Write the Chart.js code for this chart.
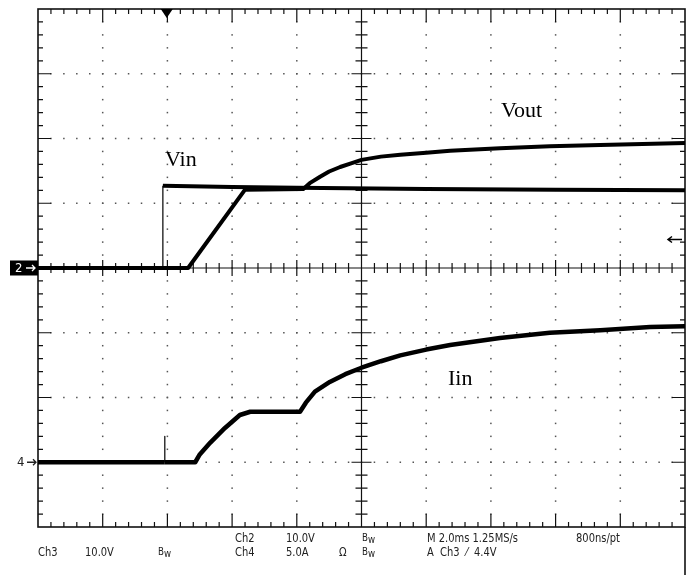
<!DOCTYPE html>
<html>
<head>
<meta charset="utf-8">
<script src="https://cdn.jsdelivr.net/npm/chart.js@4.4.0/dist/chart.umd.min.js"></script>
<style>
  body { margin: 0; background: #fff; }
  #wrap { position: relative; width: 693px; height: 575px; overflow: hidden; }
  .lbl { position: absolute; font-family: "Liberation Serif", "DejaVu Serif", serif; font-size: 22px; color: #000; line-height: 22px; white-space: nowrap; }
  .st { position: absolute; font-family: "DejaVu Sans Condensed", "DejaVu Sans", sans-serif; font-size: 12px; color: #222; line-height: 13px; white-space: nowrap; transform: scaleX(0.92); transform-origin: left; }
  .bw { font-size: 10.5px; }
  .bw span { position: relative; top: 2px; }
</style>
</head>
<body>
<div id="wrap">
  <canvas id="scope" width="693" height="575"></canvas>

  <div class="lbl" style="left:165px; top:148px;">Vin</div>
  <div class="lbl" style="left:501px; top:99px;">Vout</div>
  <div class="lbl" style="left:448px; top:367px;">Iin</div>

  <div class="st" style="left:235px; top:532px;">Ch2</div>
  <div class="st" style="left:286px; top:532px;">10.0V</div>
  <div class="st bw" style="left:362px; top:531px;">B<span>w</span></div>
  <div class="st" style="left:427px; top:532px;">M 2.0ms 1.25MS/s</div>
  <div class="st" style="left:576px; top:532px;">800ns/pt</div>

  <div class="st" style="left:38px; top:546px;">Ch3</div>
  <div class="st" style="left:85px; top:546px;">10.0V</div>
  <div class="st bw" style="left:158px; top:545px;">B<span>w</span></div>
  <div class="st" style="left:235px; top:546px;">Ch4</div>
  <div class="st" style="left:286px; top:546px;">5.0A</div>
  <div class="st" style="left:339px; top:546px;">Ω</div>
  <div class="st bw" style="left:362px; top:545px;">B<span>w</span></div>
  <div class="st" style="left:427px; top:546px;">A&nbsp; Ch3 &nbsp;⁄&nbsp; 4.4V</div>
</div>

<script>
// time in divisions (0..10), amplitude in divisions (-4..4)
var vinTime = [0, 1.93, 1.93, 3.0, 4.0, 6.0, 8.0, 10];
var vin     = [0, 0, 1.27, 1.25, 1.24, 1.22, 1.21, 1.20];

var voutTime = [0, 2.32, 3.2, 4.1, 4.2, 4.36, 4.5, 4.67, 4.85, 5.0, 5.3, 5.6, 6.0, 6.37, 7.14, 7.91, 8.69, 10];
var vout     = [0, 0, 1.21, 1.22, 1.31, 1.41, 1.49, 1.56, 1.62, 1.67, 1.72, 1.75, 1.78, 1.81, 1.85, 1.88, 1.90, 1.93];

var iinTime = [0, 1.96, 1.96, 1.96, 2.43, 2.5, 2.66, 2.89, 3.12, 3.28, 4.05, 4.14, 4.28, 4.51, 4.75, 5.0, 5.3, 5.6, 6.0, 6.37, 7.14, 7.91, 8.69, 9.46, 10];
var iin     = [-3.0, -3.0, -2.6, -3.0, -3.0, -2.88, -2.7, -2.47, -2.27, -2.22, -2.22, -2.08, -1.91, -1.76, -1.64, -1.54, -1.44, -1.35, -1.26, -1.19, -1.08, -1.0, -0.96, -0.91, -0.9];

function toPoints(xs, ys) {
  var pts = [];
  for (var i = 0; i < xs.length; i++) {
    pts.push({ x: xs[i], y: ys[i] });
  }
  return pts;
}

// thin line where the trace jumps straight up (fast edge)
function edgeWidth(w) {
  return function(ctx) {
    return ctx.p0.parsed.x === ctx.p1.parsed.x ? 1.2 : w;
  };
}

var scopeGrid = {
  id: 'scopeGrid',
  beforeDatasetsDraw: function(chart) {
    var ctx = chart.ctx;
    var a = chart.chartArea;
    var sx = chart.scales.x;
    var sy = chart.scales.y;
    var cx = sx.getPixelForValue(5);
    var cy = sy.getPixelForValue(0);
    var i, t, p, len;

    ctx.save();
    // dotted graticule
    ctx.fillStyle = '#555';
    for (i = 1; i < 10; i++) {
      if (i == 5) continue;
      p = sx.getPixelForValue(i);
      for (t = 1; t < 40; t++) {
        ctx.fillRect(p - 0.75, sy.getPixelForValue(-4 + t * 0.2) - 0.75, 1.5, 1.5);
      }
    }
    for (i = -3; i <= 3; i++) {
      if (i == 0) continue;
      p = sy.getPixelForValue(i);
      for (t = 1; t < 50; t++) {
        ctx.fillRect(sx.getPixelForValue(t * 0.2) - 0.75, p - 0.75, 1.5, 1.5);
      }
    }

    ctx.strokeStyle = '#111';
    ctx.lineWidth = 1.2;
    ctx.beginPath();
    // center axes
    ctx.moveTo(cx, a.top); ctx.lineTo(cx, a.bottom);
    ctx.moveTo(a.left, cy); ctx.lineTo(a.right, cy);

    // ticks along x
    for (t = 1; t < 50; t++) {
      p = sx.getPixelForValue(t * 0.2);
      len = (t % 5 == 0) ? 13 : 5;
      ctx.moveTo(p, a.top); ctx.lineTo(p, a.top + len);
      ctx.moveTo(p, a.bottom); ctx.lineTo(p, a.bottom - len);
      len = (t % 5 == 0) ? 8 : 5;
      ctx.moveTo(p, cy - len); ctx.lineTo(p, cy + len);
    }
    // ticks along y
    for (t = 1; t < 40; t++) {
      p = sy.getPixelForValue(-4 + t * 0.2);
      len = (t % 5 == 0) ? 13 : 5;
      ctx.moveTo(a.left, p); ctx.lineTo(a.left + len, p);
      ctx.moveTo(a.right, p); ctx.lineTo(a.right - len, p);
      len = (t % 5 == 0) ? 10 : 6;
      ctx.moveTo(cx - len, p); ctx.lineTo(cx + len, p);
    }
    ctx.stroke();

    // frame
    ctx.lineWidth = 1.6;
    ctx.strokeRect(a.left, a.top, a.right - a.left, a.bottom - a.top);
    ctx.beginPath();
    ctx.moveTo(a.right, a.bottom);
    ctx.lineTo(a.right, chart.height);
    ctx.stroke();

    // channel 2 ground marker
    var g2 = sy.getPixelForValue(0);
    ctx.fillStyle = '#000';
    ctx.fillRect(10, g2 - 7.5, a.left - 10, 15);
    ctx.fillStyle = '#fff';
    ctx.font = '13px "DejaVu Sans Condensed", sans-serif';
    ctx.textBaseline = 'middle';
    ctx.fillText('2', 15, g2 + 0.5);
    ctx.strokeStyle = '#fff';
    ctx.lineWidth = 1.3;
    ctx.beginPath();
    ctx.moveTo(26, g2); ctx.lineTo(35, g2);
    ctx.moveTo(32, g2 - 3); ctx.lineTo(35, g2); ctx.lineTo(32, g2 + 3);
    ctx.stroke();

    // channel 4 ground marker
    var g4 = sy.getPixelForValue(-3);
    ctx.fillStyle = '#222';
    ctx.fillText('4', 17, g4);
    ctx.strokeStyle = '#222';
    ctx.beginPath();
    ctx.moveTo(27, g4); ctx.lineTo(36, g4);
    ctx.moveTo(33, g4 - 3); ctx.lineTo(36, g4); ctx.lineTo(33, g4 + 3);
    ctx.stroke();

    // trigger position marker
    var tp = sx.getPixelForValue(1.99);
    ctx.fillStyle = '#000';
    ctx.beginPath();
    ctx.moveTo(tp - 6, a.top);
    ctx.lineTo(tp + 6, a.top);
    ctx.lineTo(tp, a.top + 9);
    ctx.closePath();
    ctx.fill();

    // trigger level marker
    var tl = sy.getPixelForValue(0.44);
    ctx.strokeStyle = '#000';
    ctx.lineWidth = 1.5;
    ctx.beginPath();
    ctx.moveTo(a.right - 3, tl); ctx.lineTo(a.right - 17, tl);
    ctx.moveTo(a.right - 13, tl - 3); ctx.lineTo(a.right - 17, tl); ctx.lineTo(a.right - 13, tl + 3);
    ctx.stroke();

    ctx.restore();
  }
};

var ctx = document.getElementById('scope').getContext('2d');
var chart = new Chart(ctx, {
  type: 'line',
  data: {
    datasets: [
      {
        label: 'Vin',
        data: toPoints(vinTime, vin),
        borderColor: '#000',
        borderWidth: 4,
        segment: { borderWidth: edgeWidth(4) },
        pointRadius: 0,
        tension: 0
      },
      {
        label: 'Vout',
        data: toPoints(voutTime, vout),
        borderColor: '#000',
        borderWidth: 4,
        borderJoinStyle: 'round',
        pointRadius: 0,
        tension: 0
      },
      {
        label: 'Iin',
        data: toPoints(iinTime, iin),
        borderColor: '#000',
        borderWidth: 4.5,
        borderJoinStyle: 'round',
        segment: { borderWidth: edgeWidth(4.5) },
        pointRadius: 0,
        tension: 0
      }
    ]
  },
  options: {
    responsive: false,
    animation: false,
    layout: { padding: { left: 38, right: 8, top: 9, bottom: 48 } },
    plugins: { legend: { display: false }, tooltip: { enabled: false } },
    scales: {
      x: { type: 'linear', min: 0, max: 10, display: false },
      y: { type: 'linear', min: -4, max: 4, display: false }
    }
  },
  plugins: [scopeGrid]
});
</script>
</body>
</html>
